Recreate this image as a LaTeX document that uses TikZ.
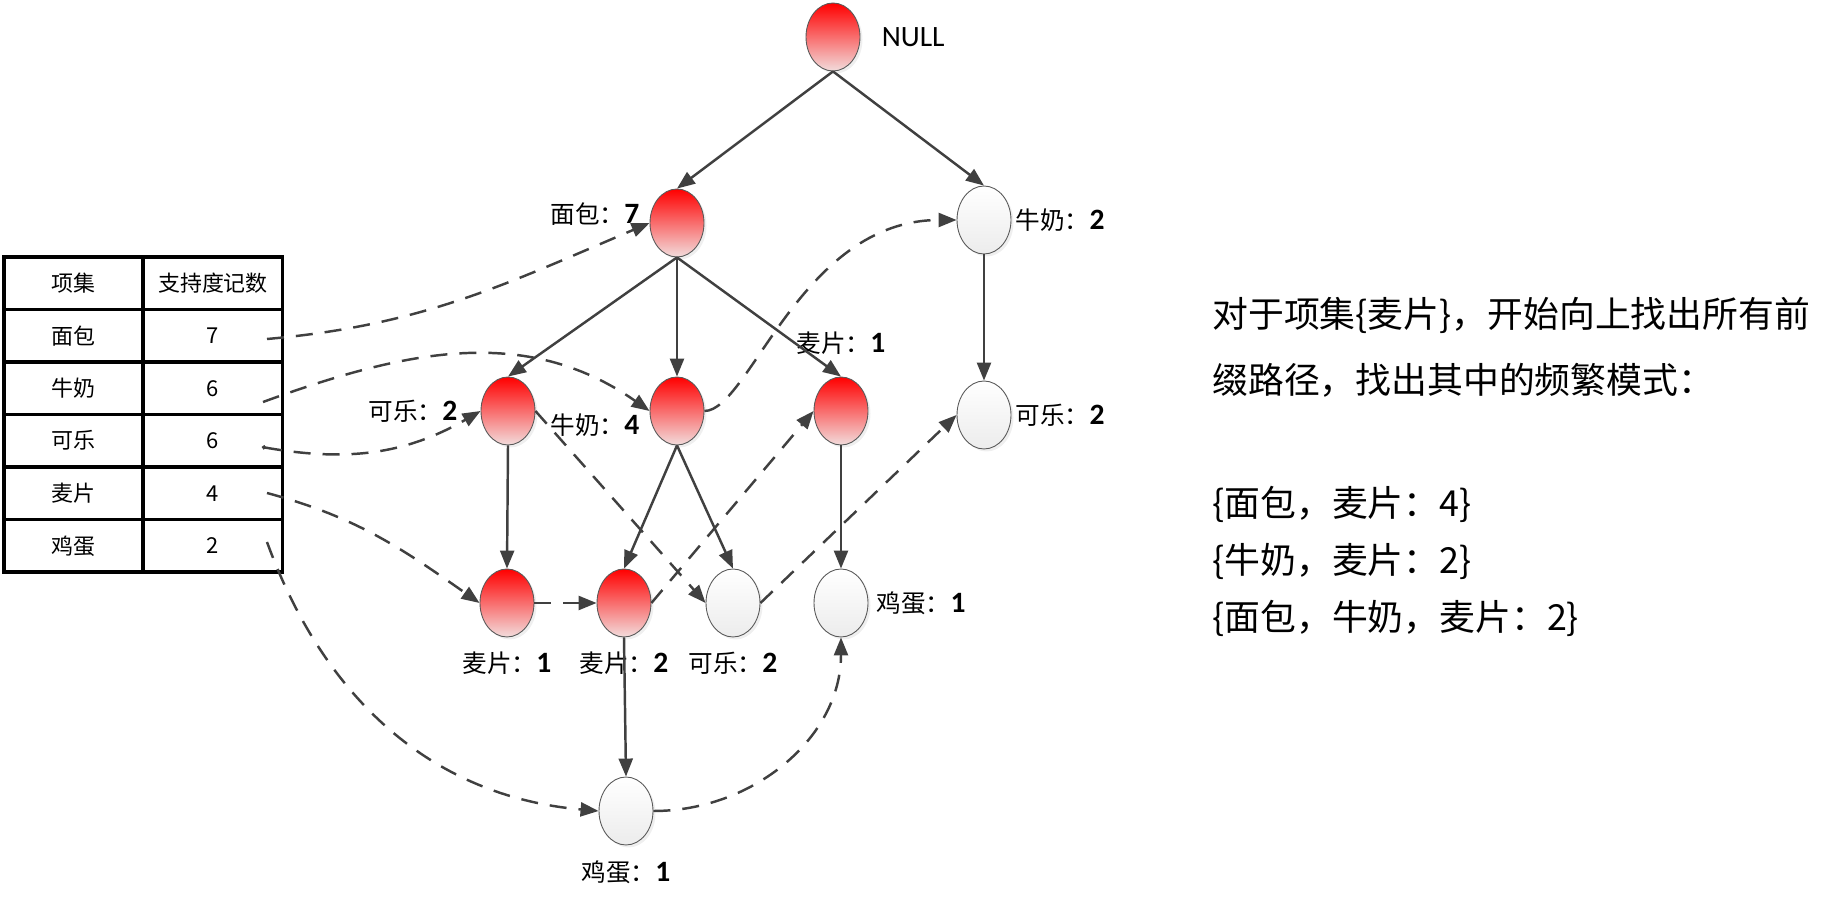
\documentclass[tikz,border=0pt]{standalone}
\usepackage{fontspec}
\setmainfont{Noto Sans CJK SC}
\newfontfamily\latinfont[Scale=1.2]{Carlito}
\usepackage{tikz}
\usetikzlibrary{positioning,arrows.meta,shapes.geometric,shadows}
\definecolor{edgegray}{RGB}{64,64,64}
\definecolor{pinkwhite}{RGB}{242,220,220}
\newcommand{\cnt}[1]{\textbf{\latinfont #1}}

\begin{document}
\begin{tikzpicture}[
    x=0.02cm, y=0.02cm,
    >={Triangle[length=0.36cm,width=0.28cm]},
    redball/.style={ellipse, draw=gray!70!black, line width=0.5pt,
        minimum width=1.08cm, minimum height=1.36cm, inner sep=0pt,
        top color=red, bottom color=pinkwhite,
        drop shadow={shadow xshift=0.05cm, shadow yshift=-0.05cm, fill=black!12}},
    whiteball/.style={redball, top color=white, bottom color=gray!15},
    lbl/.style={font=\fontsize{14}{16}\selectfont, inner sep=0pt},
    cell/.style={draw, line width=2.2pt, minimum width=2.78cm, minimum height=1.05cm,
        inner sep=0pt, font=\fontsize{12.5}{14}\selectfont},
    tree/.style={->, line width=1.4pt, edgegray},
    link/.style={tree, dash pattern=on 0.34cm off 0.24cm},
    note/.style={anchor=west, inner sep=0pt, font=\fontsize{20.4}{24}\selectfont}
]
\useasboundingbox (0,0) rectangle (1837,913);

% header table
\foreach \item/\num [count=\i from 0] in {项集/支持度记数, 面包/7, 牛奶/6, 可乐/6, 麦片/4, 鸡蛋/2} {
    \node[cell] (ta\i) at (73.5,629.75-52.5*\i) {\item};
    \node[cell] (tb\i) at (213,629.75-52.5*\i) {\num};
}
\coordinate (s1) at (267,574);
\coordinate (s2) at (263,511);
\coordinate (s3) at (262,466);
\coordinate (s4) at (267,420);
\coordinate (s5) at (267,371);

% FP-tree
\node[redball]   (null)  at (833,876) {};
\node[redball]   (bread) at (677,690) {};
\node[whiteball] (milkA) at (984,693) {};
\node[redball]   (colaA) at (508,502) {};
\node[redball]   (milkB) at (677,502) {};
\node[redball]   (oatA)  at (841,502) {};
\node[whiteball] (colaB) at (984,498) {};
\node[redball]   (oatB)  at (507,310) {};
\node[redball]   (oatC)  at (624,310) {};
\node[whiteball] (colaC) at (733,310) {};
\node[whiteball] (eggA)  at (841,310) {};
\node[whiteball] (eggB)  at (626,102) {};

\node[lbl, right=0.42cm of null] (nullL) {\latinfont NULL};
\node[lbl, left=0.2cm of bread, yshift=0.18cm] (breadL) {面包：\cnt{7}};
\node[lbl, right=0.08cm of milkA] (milkAL) {牛奶：\cnt{2}};
\node[lbl, left=0.46cm of colaA] (colaAL) {可乐：\cnt{2}};
\node[lbl, left=0.2cm of milkB, yshift=-0.28cm] (milkBL) {牛奶：\cnt{4}};
\node[lbl, above=0.44cm of oatA] (oatAL) {麦片：\cnt{1}};
\node[lbl, right=0.08cm of colaB] (colaBL) {可乐：\cnt{2}};
\node[lbl, below=0.28cm of oatB] (oatBL) {麦片：\cnt{1}};
\node[lbl, below=0.28cm of oatC] (oatCL) {麦片：\cnt{2}};
\node[lbl, below=0.28cm of colaC] (colaCL) {可乐：\cnt{2}};
\node[lbl, right=0.16cm of eggA] (eggAL) {鸡蛋：\cnt{1}};
\node[lbl, below=0.3cm of eggB] (eggBL) {鸡蛋：\cnt{1}};

\draw[tree] (null.south) -- (bread.north);
\draw[tree] (null.south) -- (milkA.north);
\draw[tree] (bread.south) -- (colaA.north);
\draw[tree] (bread.south) -- (milkB.north);
\draw[tree] (bread.south) -- (oatA.north);
\draw[tree] (milkA.south) -- (colaB.north);
\draw[tree] (colaA.south) -- (oatB.north);
\draw[tree] (milkB.south) -- (oatC.north);
\draw[tree] (milkB.south) -- (colaC.north);
\draw[tree] (oatA.south) -- (eggA.north);
\draw[tree] (oatC.south) -- (eggB.north);

% node links
\draw[link] (s1) to[out=5,in=203] (bread.west);
\draw[link] (s2) to[out=20,in=145] (milkB.west);
\draw[link, {Circle[open,length=0.08cm]}->] (s3) to[out=-10,in=210] (colaA.west);
\draw[link] (s4) to[out=-15,in=145] (oatB.west);
\draw[link] (s5) to[out=-70,in=175] (eggB.west);
\draw[link] (milkB.east) .. controls +(45,0) and +(-156,0) .. (milkA.west);
\draw[link] (colaA.east) -- (colaC.west);
\draw[link] (oatB.east) -- (oatC.west);
\draw[link] (oatC.east) -- (oatA.west);
\draw[link] (colaC.east) -- (colaB.west);
\draw[link] (eggB.east) to[out=0,in=-90] (eggA.south);

\node[note] (t1) at (1212,598) {对于项集\{麦片\}，开始向上找出所有前};
\node[note] (t2) at (1212,533) {缀路径，找出其中的频繁模式：};
\node[note] (t3) at (1212,409) {\{面包，麦片：4\}};
\node[note] (t4) at (1212,352) {\{牛奶，麦片：2\}};
\node[note] (t5) at (1212,295) {\{面包，牛奶，麦片：2\}};

\end{tikzpicture}
\end{document}
